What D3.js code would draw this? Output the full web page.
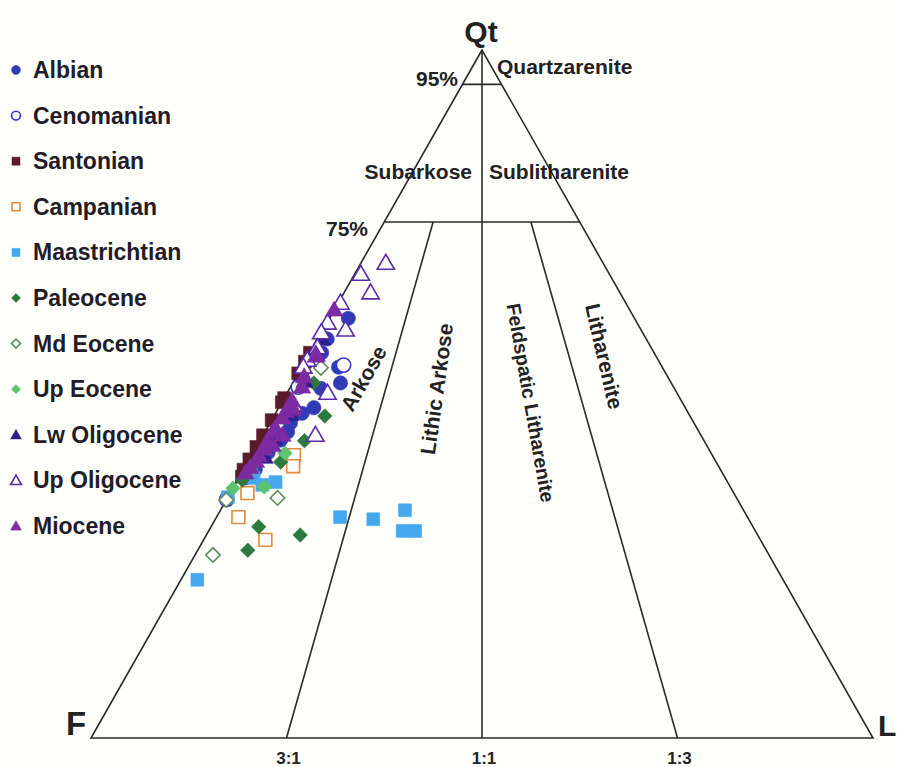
<!DOCTYPE html>
<html>
<head>
<meta charset="utf-8">
<script src="https://cdn.jsdelivr.net/npm/d3@7"></script>
<style>
  body { margin: 0; background: #fefefb; }
  svg { display: block; font-family: "Liberation Sans", Arial, sans-serif; }
</style>
</head>
<body>
<svg id="chart" width="897" height="767"></svg>
<script>
// Ternary QtFL composition of sandstone samples, [Qt, F, L] in percent.
const albian = [
  [61.0, 36.6, 2.4], [53.9, 41.4, 4.7], [51.6, 42.3, 6.1], [50.8, 45.2, 4.0],
  [48.0, 47.5, 4.5], [47.2, 49.4, 3.4], [44.5, 52.6, 2.9], [43.3, 54.1, 2.6],
  [52.8, 46.7, 0.5], [52.2, 46.8, 1.0], [39.0, 59.5, 1.5], [37.8, 61.4, 0.8],
  [56.0, 42.5, 1.5], [58.0, 40.8, 1.2], [45.8, 51.6, 2.6], [41.5, 56.6, 1.9]
];
const cenomanian = [
  [54.2, 40.6, 5.2], [34.7, 65.3, 0.0], [51.0, 48.0, 1.0]
];
const santonian = [
  [54.7, 45.3, 0.0], [53.0, 47.0, 0.0], [49.4, 50.6, 0.0], [48.8, 51.2, 0.0],
  [46.2, 53.8, 0.0], [44.0, 56.0, 0.0], [42.3, 57.7, 0.0], [40.5, 59.5, 0.0],
  [39.0, 61.0, 0.0], [38.0, 61.7, 0.3], [56.0, 44.0, 0.0]
];
const campanian = [
  [35.6, 62.2, 2.2], [32.1, 65.1, 2.8], [28.8, 63.3, 7.9], [41.1, 53.5, 5.4],
  [39.5, 54.4, 6.1]
];
const maastrichtian = [
  [23.0, 74.9, 2.1], [32.1, 52.1, 15.8], [31.8, 48.0, 20.2], [33.1, 43.3, 23.6],
  [30.1, 45.1, 24.8], [30.1, 43.5, 26.4], [37.8, 60.3, 1.9], [37.2, 57.8, 5.0],
  [36.8, 59.7, 3.5], [35.0, 65.0, 0.0]
];
const paleocene = [
  [51.6, 45.7, 2.7], [46.8, 46.7, 6.5], [43.2, 51.1, 5.7], [40.1, 55.7, 4.2],
  [37.5, 61.9, 0.6], [30.7, 63.2, 6.1], [29.5, 58.5, 12.0], [27.3, 66.3, 6.4]
];
const mdEocene = [
  [53.8, 43.7, 2.5], [34.9, 58.7, 6.4], [26.6, 71.1, 2.3], [34.6, 65.4, 0.0]
];
const upEocene = [
  [41.4, 54.5, 4.1], [36.5, 59.6, 3.9], [36.3, 63.7, 0.0], [39.0, 60.1, 0.9]
];
const lwOligocene = [
  [51.8, 46.8, 1.4], [47.0, 51.0, 2.0], [43.5, 54.8, 1.7], [40.8, 57.4, 1.8],
  [58.0, 41.5, 0.5]
];
const upOligocene = [
  [69.0, 27.8, 3.2], [67.4, 31.8, 0.8], [64.7, 31.9, 3.4], [59.3, 37.8, 2.9],
  [60.3, 39.6, 0.1], [58.9, 41.1, 0.0], [56.7, 42.7, 0.6], [55.7, 43.4, 0.9],
  [54.9, 44.9, 0.2], [50.1, 44.7, 5.2], [48.4, 49.9, 1.7], [44.0, 49.3, 6.7],
  [53.9, 45.9, 0.2], [63.2, 36.5, 0.3]
];
const miocene = [
  [62.2, 37.8, 0.0], [55.5, 43.5, 1.0], [52.5, 46.5, 1.0], [51.0, 47.5, 1.5],
  [49.0, 49.8, 1.2], [47.5, 51.3, 1.2], [46.5, 52.3, 1.2], [45.0, 53.9, 1.1],
  [44.5, 54.5, 1.0], [43.0, 56.0, 1.0], [42.0, 56.8, 1.2], [41.0, 58.0, 1.0],
  [40.2, 58.8, 1.0], [39.3, 60.0, 0.7], [38.5, 61.0, 0.5], [44.0, 53.5, 2.5],
  [47.8, 50.2, 2.0], [42.5, 55.5, 2.0]
];

const seriesNames = ["Albian", "Cenomanian", "Santonian", "Campanian", "Maastrichtian",
  "Paleocene", "Md Eocene", "Up Eocene", "Lw Oligocene", "Up Oligocene", "Miocene"];
const seriesValues = [albian, cenomanian, santonian, campanian, maastrichtian,
  paleocene, mdEocene, upEocene, lwOligocene, upOligocene, miocene];

// Folk (1980) field boundaries
const qtLimits = [95, 75];
const ratioLabels = ["3:1", "1:1", "1:3"];
const ratioValues = [25, 50, 75];   // L share of F+L at the base

// marker style per series
const styles = [
  { shape: "circle",   color: "#2f3cb6", open: false },
  { shape: "circle",   color: "#3438c6", open: true  },
  { shape: "square",   color: "#5a1c2c", open: false },
  { shape: "square",   color: "#e28a3c", open: true  },
  { shape: "square",   color: "#45a8ee", open: false },
  { shape: "diamond",  color: "#2c7a3d", open: false },
  { shape: "diamond",  color: "#5e8c5c", open: true  },
  { shape: "diamond",  color: "#5cc46c", open: false },
  { shape: "triangle", color: "#2b1f8c", open: false },
  { shape: "triangle", color: "#5a2aa8", open: true  },
  { shape: "triangle", color: "#7d2ba2", open: false }
];

const svg = d3.select("#chart");
const ink = "#2a2a2a";

// Qt maps to height, (L + Qt/2) maps along the F–L base
const yScale = d3.scaleLinear().domain([0, 100]).range([738, 50]);
const xScale = d3.scaleLinear().domain([0, 100]).range([91, 873]);
const project = ([q, f, l]) => [xScale(l + q / 2), yScale(q)];
const line = d3.line().x(d => project(d)[0]).y(d => project(d)[1]);

const frame = svg.append("g").attr("fill", "none").attr("stroke", ink).attr("stroke-width", 1.6);

// outer triangle
frame.append("path").attr("d", line([[100, 0, 0], [0, 100, 0], [0, 0, 100]]) + "Z");

// horizontal Qt limits
qtLimits.forEach(q => {
  frame.append("path").attr("d", line([[q, 100 - q, 0], [q, 0, 100 - q]]));
});

// F:L ratio lines: 1:1 up to the apex, the others up to the 75% line
ratioValues.forEach(r => {
  const top = r === 50 ? 100 : qtLimits[1];
  const rest = 100 - top;
  frame.append("path").attr("d", line([
    [0, 100 - r, r],
    [top, rest * (100 - r) / 100, rest * r / 100]
  ]));
});

// ratio labels under the base
svg.append("g").selectAll("text").data(ratioValues).join("text")
  .attr("x", r => xScale(r) + 2).attr("y", 764)
  .attr("text-anchor", "middle").attr("font-size", 17).attr("font-weight", "bold")
  .attr("fill", "#222").text((r, i) => ratioLabels[i]);

// pole labels
const poles = svg.append("g").attr("font-weight", "bold").attr("fill", "#222");
poles.append("text").attr("x", 481).attr("y", 42).attr("text-anchor", "middle").attr("font-size", 30).text("Qt");
poles.append("text").attr("x", 66).attr("y", 735).attr("font-size", 33).text("F");
poles.append("text").attr("x", 878).attr("y", 736).attr("font-size", 30).text("L");

// field names
const fieldText = svg.append("g").attr("fill", "#222").attr("font-size", 21).attr("font-weight", "bold");
fieldText.append("text").attr("x", 458).attr("y", 86).attr("text-anchor", "end").text(qtLimits[0] + "%");
fieldText.append("text").attr("x", 368).attr("y", 236).attr("text-anchor", "end").text(qtLimits[1] + "%");
fieldText.append("text").attr("x", 497).attr("y", 74).text("Quartzarenite");
fieldText.append("text").attr("x", 472).attr("y", 179).attr("text-anchor", "end").text("Subarkose");
fieldText.append("text").attr("x", 489).attr("y", 179).text("Sublitharenite");

const rotated = [
  { text: "Arkose", x: 370, y: 382, angle: -60.5, size: 21 },
  { text: "Lithic Arkose", x: 444, y: 390, angle: -82, size: 21 },
  { text: "Feldspatic Litharenite", x: 524, y: 404, angle: 80, size: 19.5 },
  { text: "Litharenite", x: 597, y: 358, angle: 77, size: 21 }
];
fieldText.selectAll("text.rot").data(rotated).join("text").attr("class", "rot")
  .attr("text-anchor", "middle").attr("font-size", d => d.size)
  .attr("transform", d => `translate(${d.x},${d.y}) rotate(${d.angle})`)
  .text(d => d.text);

// marker generator
function marker(sel, st, big) {
  const size = big ? 1 : 0.62;
  let path;
  if (st.shape === "circle") path = d3.symbol(d3.symbolCircle, 160 * size * size)();
  else if (st.shape === "square") path = d3.symbol(d3.symbolSquare, 165 * size * size)();
  else if (st.shape === "diamond") path = d3.symbol(d3.symbolSquare, 105 * size * size)();
  else path = d3.symbol(d3.symbolTriangle, 130 * size * size)();
  sel.attr("d", path)
    .attr("fill", st.open ? "#ffffff" : st.color)
    .attr("stroke", st.color)
    .attr("stroke-width", st.open ? 1.6 : 0.6);
  return st.shape === "diamond" ? " rotate(45)" : (st.shape === "triangle" ? " translate(0,1)" : "");
}

// sample points, in legend order so the later series sit on top
const pts = svg.append("g");
seriesValues.forEach((vals, i) => {
  const st = styles[i];
  pts.append("g").selectAll("path").data(vals).join("path")
    .each(function (d) {
      const extra = marker(d3.select(this), st, true);
      const [x, y] = project(d);
      d3.select(this).attr("transform", `translate(${x},${y})${extra}`);
    });
});

// legend
const legend = svg.append("g");
seriesNames.forEach((name, i) => {
  const cy = 70 + i * 45.6;
  const g = legend.append("g");
  const p = g.append("path");
  const extra = marker(p, styles[i], false);
  p.attr("transform", `translate(16,${cy})${extra}`);
  g.append("text").attr("x", 33).attr("y", cy + 8).attr("font-size", 23)
    .attr("font-weight", "bold").attr("fill", "#221c28").text(name);
});
</script>
</body>
</html>
